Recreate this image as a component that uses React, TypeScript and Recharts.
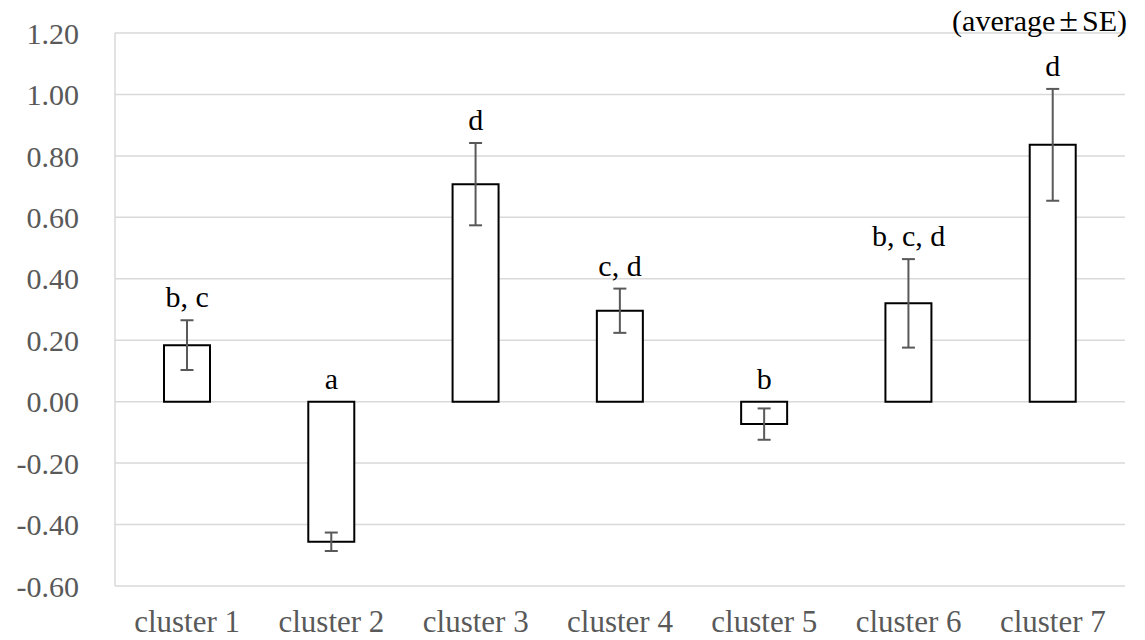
import React from 'react';
import {
  ComposedChart,
  Bar,
  Line,
  XAxis,
  YAxis,
  CartesianGrid,
  ErrorBar,
  LabelList,
} from 'recharts';

const CLUSTERS = [
  'cluster 1',
  'cluster 2',
  'cluster 3',
  'cluster 4',
  'cluster 5',
  'cluster 6',
  'cluster 7',
];
const MEANS = [0.184, -0.456, 0.708, 0.296, -0.073, 0.32, 0.836];
const SE = [0.081, 0.03, 0.134, 0.072, 0.051, 0.144, 0.182];
const GROUPS = ['b, c', 'a', 'd', 'c, d', 'b', 'b, c, d', 'd'];
const Y_TICKS = [-0.6, -0.4, -0.2, 0, 0.2, 0.4, 0.6, 0.8, 1.0, 1.2];

const FONT = '"Liberation Serif", "Times New Roman", serif';
const GRID = '#d9d9d9';
const AXIS_TEXT = '#595959';

// where each letter label sits: above the error bar, or above zero for negative bars
const chartData = CLUSTERS.map((name, i) => ({
  name,
  mean: MEANS[i],
  se: SE[i],
  group: GROUPS[i],
  labelPos: MEANS[i] > 0 ? MEANS[i] + SE[i] : 0,
}));

function GroupLabel(props: any) {
  const { x, y, value } = props;
  if (x == null || y == null) return null;
  return (
    <text
      x={x}
      y={y - 13}
      textAnchor="middle"
      fontFamily={FONT}
      fontSize={30}
      fill="#000"
    >
      {value}
    </text>
  );
}

function YTick(props: any) {
  const { x, y, payload } = props;
  return (
    <text
      x={x}
      y={y}
      dy="0.355em"
      textAnchor="end"
      fontFamily={FONT}
      fontSize={30}
      fill={AXIS_TEXT}
    >
      {Number(payload.value).toFixed(2)}
    </text>
  );
}

function XTick(props: any) {
  const { x, y, payload } = props;
  return (
    <text
      x={x}
      y={y}
      dy="0.71em"
      textAnchor="middle"
      fontFamily={FONT}
      fontSize={31}
      fill={AXIS_TEXT}
    >
      {payload.value}
    </text>
  );
}

export default function App() {
  return (
    <div style={{ width: 1145, height: 640, background: '#fff', fontFamily: FONT }}>
      <style>{`body { margin: 0; }`}</style>
      <ComposedChart
        width={1145}
        height={640}
        data={chartData}
        margin={{ top: 33, right: 20, bottom: 24, left: 0 }}
        style={{ fontFamily: FONT }}
      >
        <CartesianGrid vertical={false} stroke={GRID} strokeWidth={1.5} />
        <XAxis
          dataKey="name"
          height={30}
          axisLine={false}
          tickLine={false}
          tickSize={0}
          tickMargin={24}
          interval={0}
          tick={<XTick />}
        />
        <YAxis
          width={115}
          domain={[-0.6, 1.2]}
          ticks={Y_TICKS}
          interval={0}
          axisLine={{ stroke: GRID, strokeWidth: 1.5 }}
          tickLine={false}
          tickSize={0}
          tickMargin={36}
          tick={<YTick />}
        />
        <Bar
          dataKey="mean"
          fill="#fff"
          stroke="#000"
          strokeWidth={2}
          barSize={46}
          isAnimationActive={false}
        >
          <ErrorBar
            dataKey="se"
            width={6.5}
            stroke={AXIS_TEXT}
            strokeWidth={2}
            direction="y"
          />
        </Bar>
        <Line
          dataKey="labelPos"
          stroke="none"
          dot={false}
          activeDot={false}
          isAnimationActive={false}
        >
          <LabelList dataKey="group" content={GroupLabel} />
        </Line>
        <text
          x={1127}
          y={31}
          textAnchor="end"
          fontFamily={FONT}
          fontSize={30}
          fill="#000"
        >
          (average
          <tspan dx={4} fontSize={34}>±</tspan>
          <tspan dx={4}>SE)</tspan>
        </text>
      </ComposedChart>
    </div>
  );
}
